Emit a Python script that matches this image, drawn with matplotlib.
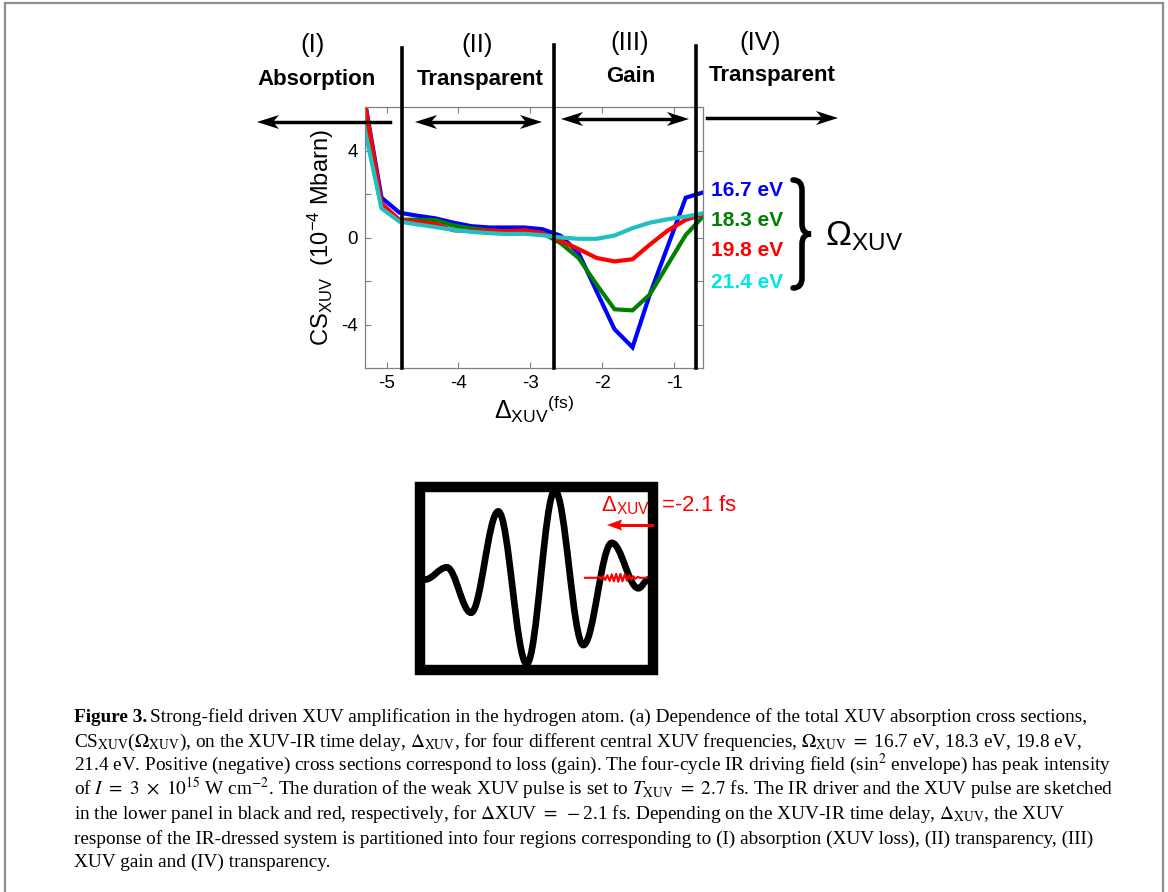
import numpy as np
import matplotlib
matplotlib.use("Agg")
import matplotlib.pyplot as plt
import matplotlib.transforms as mtransforms
from matplotlib.lines import Line2D
from matplotlib.patches import Polygon, PathPatch, Rectangle
from matplotlib.path import Path

plt.rcParams['font.family'] = ['Liberation Sans', 'DejaVu Sans']
plt.rcParams['mathtext.fontset'] = 'custom'
plt.rcParams['mathtext.rm'] = 'Liberation Sans'
plt.rcParams['mathtext.it'] = 'Liberation Sans:italic'
plt.rcParams['mathtext.bf'] = 'Liberation Sans:bold'
plt.rcParams['axes.unicode_minus'] = False

W, H = 1168, 892

# ---- data: cross sections vs XUV-IR delay (10^-4 Mbarn) ----
delay = [-5.32, -5.07, -4.82, -4.57, -4.32, -4.07, -3.82, -3.57, -3.33, -3.08,
         -2.83, -2.58, -2.33, -2.08, -1.83, -1.58, -1.34, -1.09, -0.84, -0.59]
cs_167 = [6.6, 1.83, 1.14, 1.0, 0.88, 0.68, 0.52, 0.46, 0.46, 0.46,
          0.38, 0.08, -0.71, -2.47, -4.22, -5.05, -2.62, -0.4, 1.83, 2.08]
cs_183 = [5.4, 1.4, 0.82, 0.82, 0.8, 0.55, 0.42, 0.33, 0.28, 0.3,
          0.2, -0.26, -0.94, -2.16, -3.3, -3.35, -2.62, -1.25, 0.12, 1.0]
cs_198 = [6.6, 1.57, 0.8, 0.72, 0.62, 0.33, 0.3, 0.32, 0.28, 0.33,
          0.2, -0.15, -0.53, -0.94, -1.1, -1.0, -0.33, 0.32, 0.81, 1.08]
cs_214 = [5.23, 1.34, 0.73, 0.6, 0.48, 0.35, 0.26, 0.2, 0.16, 0.17,
          0.1, 0.0, -0.06, -0.06, 0.09, 0.43, 0.68, 0.84, 0.96, 1.12]
series = [cs_167, cs_183, cs_198, cs_214]
omega_labels = ['16.7 eV', '18.3 eV', '19.8 eV', '21.4 eV']
line_colors = ['#0000ff', '#008000', '#ff0000', '#20c0c0']
text_colors = ['#0000ff', '#008000', '#ff0000', '#00e5e5']

region_bounds = [-4.79, -2.67, -0.70]
region_numbers = ['(I)', '(II)', '(III)', '(IV)']
region_names = ['Absorption', 'Transparent', 'Gain', 'Transparent']

# ---- lower panel sketch: IR field extrema and XUV pulse ----
ir_t = [0.021, 0.115, 0.219, 0.336, 0.458, 0.579, 0.701, 0.823, 0.937, 0.980]
ir_field = [-0.02, 0.12, -0.40, 0.76, -0.985, 1.0, -0.77, 0.40, -0.12, -0.02]
xuv_t = [0.708, 0.758, 0.767, 0.777, 0.786, 0.795, 0.804, 0.814, 0.823, 0.832,
         0.842, 0.851, 0.860, 0.869, 0.879, 0.888, 0.897, 0.907, 0.916, 0.925,
         0.934, 0.944, 0.973]
xuv_field = [0, 0, 0.012, -0.012, 0.018, -0.024, 0.03, -0.035, 0.04, -0.04,
             0.045, -0.045, 0.045, -0.04, 0.04, -0.035, 0.03, -0.024, 0.018, -0.012,
             0.012, 0, 0]

fig = plt.figure(figsize=(W / 100, H / 100), dpi=100)


def fpx(x, y):
    # image pixel (top-left origin) -> figure fraction
    return x / W, 1 - y / H


# ---- main axes ----
ax = fig.add_axes([365 / W, 1 - 368 / H, 338 / W, 261 / H])
for ys, c in zip(series, line_colors):
    ax.plot(delay, ys, color=c, lw=3.0, solid_joinstyle='miter')
ax.set_xlim(-5.3, -0.6)
ax.set_ylim(-6, 6)
ax.set_xticks([-5, -4, -3, -2, -1])
ax.set_xticklabels(['-5', '-4', '-3', '-2', '-1'])
ax.set_yticks([-4, -2, 0, 2, 4])
ax.set_yticklabels(['-4', '', '0', '', '4'])
ax.tick_params(direction='in', top=True, right=True, length=4, width=0.8,
               color='#808080', labelsize=13.5, pad=5)
for sp in ax.spines.values():
    sp.set_color('#808080')
    sp.set_linewidth(0.9)
ax.set_ylabel(r'CS$_{\mathrm{XUV}}$  (10$^{-4}$ Mbarn)', fontsize=17, labelpad=4)
ax.set_xlabel(r'$\Delta_{\mathrm{XUV}}{}^{\mathrm{(fs)}}$', fontsize=18, labelpad=1)

# region boundaries, running up into the header
blend = mtransforms.blended_transform_factory(ax.transData, fig.transFigure)
line_tops = [48, 45, 46]
for xb, top in zip(region_bounds, line_tops):
    fig.add_artist(Line2D([xb, xb], [1 - top / H, 1 - 368 / H], color='k', lw=2.6,
                          transform=blend))

# region headings
num_pos = [(313, 45), (477, 45), (630, 43), (760, 43)]
name_pos = [(317, 80), (480, 80), (631, 76), (772, 76)]
for lab, (x, y) in zip(region_numbers, num_pos):
    fig.text(*fpx(x, y), lab, fontsize=18.5, ha='center', va='center')
for lab, (x, y) in zip(region_names, name_pos):
    fig.text(*fpx(x, y), lab, fontsize=16, fontweight='bold', ha='center', va='center')


def draw_arrow(x0, y0, x1, y1, both=False, color='k', lw=2.5, L=22, hw=7, notch=6):
    d = np.array([x1 - x0, y1 - y0], float)
    d /= np.hypot(*d)
    heads = [(np.array([x1, y1], float), d)]
    if both:
        heads.append((np.array([x0, y0], float), -d))
    a = np.array([x0, y0], float) + (d * L * 0.5 if both else 0)
    b = np.array([x1, y1], float) - d * L * 0.5
    fig.add_artist(Line2D([a[0] / W, b[0] / W], [1 - a[1] / H, 1 - b[1] / H],
                          color=color, lw=lw, transform=fig.transFigure))
    for tip, dd in heads:
        nn = np.array([-dd[1], dd[0]])
        pts = [tip, tip - L * dd + hw * nn, tip - (L - notch) * dd, tip - L * dd - hw * nn]
        fig.add_artist(Polygon([fpx(*p) for p in pts], closed=True, color=color,
                               lw=0, transform=fig.transFigure))


draw_arrow(390, 122, 257, 122)
draw_arrow(415, 122, 542, 122, both=True)
draw_arrow(561, 119, 689, 119, both=True)
draw_arrow(707, 118, 838, 118)

# frequency labels, brace and Omega
lab_y = [190, 221, 250, 282]
for lab, c, y in zip(omega_labels, text_colors, lab_y):
    fig.text(*fpx(711, y), lab, color=c, fontsize=15, fontweight='bold',
             ha='left', va='center')

bx0, bxm, bxt = 793, 802, 811
byt, bym, byb, r = 180, 234, 288, 10
brace = [(bx0, byt), (bxm, byt), (bxm, byt + r), (bxm, bym - r), (bxm, bym), (bxt, bym),
         (bxm, bym), (bxm, bym + r), (bxm, byb - r), (bxm, byb), (bx0, byb)]
codes = [Path.MOVETO, Path.CURVE3, Path.CURVE3, Path.LINETO, Path.CURVE3, Path.CURVE3,
         Path.CURVE3, Path.CURVE3, Path.LINETO, Path.CURVE3, Path.CURVE3]
fig.add_artist(PathPatch(Path([fpx(*p) for p in brace], codes), fill=False, lw=4,
                         color='k', capstyle='round', transform=fig.transFigure))
fig.text(*fpx(825, 236), r'$\Omega_{\mathrm{XUV}}$', fontsize=25, ha='left', va='center')

# ---- lower panel ----
ax2 = fig.add_axes([420 / W, 1 - 669.5 / H, 233 / W, 182.5 / H])
ax2.set_xlim(0, 1)
ax2.set_ylim(-1.05, 1.04)
ax2.axis('off')
verts = [(ir_t[0], ir_field[0])]
pcodes = [Path.MOVETO]
for t0, a0, t1, a1 in zip(ir_t[:-1], ir_field[:-1], ir_t[1:], ir_field[1:]):
    dt = t1 - t0
    verts += [(t0 + 0.364 * dt, a0), (t1 - 0.364 * dt, a1), (t1, a1)]
    pcodes += [Path.CURVE4] * 3
ax2.add_patch(PathPatch(Path(verts, pcodes), fill=False, lw=4.8, color='k', zorder=2))
ax2.plot(xuv_t, xuv_field, color='#ff0000', lw=1.5, zorder=2.5)
ax2.add_patch(Rectangle((0, 0), 1, 1, transform=ax2.transAxes, fill=False, lw=7.5,
                        ec='k', joinstyle='miter', clip_on=False, zorder=4))
ax2.text(*fpx(601, 511), r'$\Delta_{\mathrm{XUV}}$  =-2.1 fs', color='#ff0000',
         fontsize=16, ha='left', va='baseline', transform=fig.transFigure,
         clip_on=False, zorder=1)
draw_arrow(652, 525, 607, 525, color='#ff0000', lw=2.2, L=15, hw=5.5, notch=2)

# ---- caption ----
cap_kw = dict(fontsize=13.9, family='Liberation Serif', math_fontfamily='stix',
              ha='left', va='baseline')
baselines = [722, 747, 770, 795, 819, 844, 867]
t_bold = fig.text(*fpx(74, baselines[0]), 'Figure 3.', fontweight='bold', **cap_kw)
fig.canvas.draw()
bb = t_bold.get_window_extent(fig.canvas.get_renderer())
fig.text(bb.x1 / W + 3 / W, 1 - baselines[0] / H,
         'Strong-field driven XUV amplification in the hydrogen atom. (a) Dependence of '
         'the total XUV absorption cross sections,', **cap_kw)
cap_lines = [
    r'CS$_{\mathrm{XUV}}$($\Omega_{\mathrm{XUV}}$), on the XUV-IR time delay, '
    r'$\Delta_{\mathrm{XUV}}$, for four different central XUV frequencies, '
    r'$\Omega_{\mathrm{XUV}}\ =\ $16.7 eV, 18.3 eV, 19.8 eV,',
    r'21.4 eV. Positive (negative) cross sections correspond to loss (gain). The '
    r'four-cycle IR driving field (sin$^2$ envelope) has peak intensity',
    r'of $I\ =\ 3\ \times\ 10^{15}$ W cm$^{-2}$. The duration of the weak XUV pulse is '
    r'set to $T_{\mathrm{XUV}}\ =\ 2.7$ fs. The IR driver and the XUV pulse are sketched',
    r'in the lower panel in black and red, respectively, for $\Delta$XUV $=\ -$2.1 fs. '
    r'Depending on the XUV-IR time delay, $\Delta_{\mathrm{XUV}}$, the XUV',
    'response of the IR-dressed system is partitioned into four regions corresponding '
    'to (I) absorption (XUV loss), (II) transparency, (III)',
    'XUV gain and (IV) transparency.',
]
for txt, yb in zip(cap_lines, baselines[1:]):
    fig.text(*fpx(74, yb), txt, **cap_kw)

# page frame
for xs, ys in [([5, 5], [3, 892]), ([5, 1163], [3, 3]), ([1163, 1163], [3, 892])]:
    fig.add_artist(Line2D([x / W for x in xs], [1 - y / H for y in ys], color='#909090',
                          lw=1.6, transform=fig.transFigure))

fig.savefig('out.png', dpi=100)
